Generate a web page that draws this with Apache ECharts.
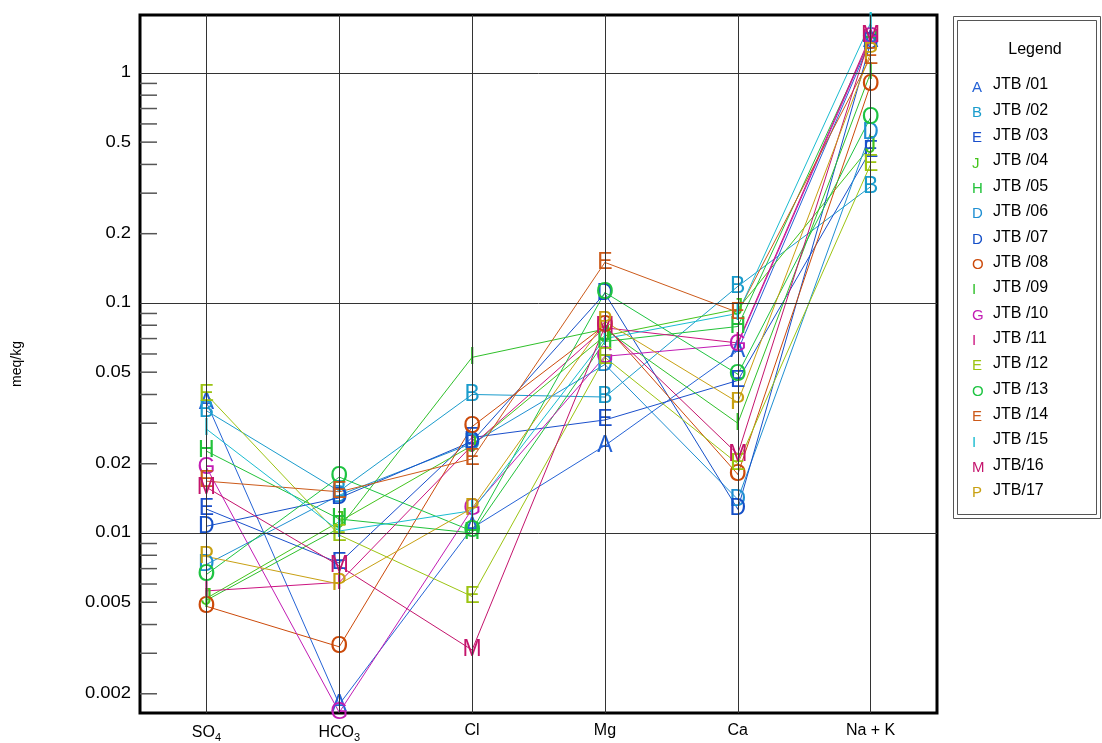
<!DOCTYPE html>
<html>
<head>
<meta charset="utf-8">
<title>Schoeller</title>
<script src="https://cdn.jsdelivr.net/npm/echarts@6/dist/echarts.min.js"></script>
<style>
  html, body { margin: 0; padding: 0; background: #fff; }
  #chart { width: 1102px; height: 743px; }
</style>
</head>
<body>
<div id="chart"></div>
<script>
(function() {
    'use strict';

    // categories along the x axis
    var categories = ['SO4', 'HCO3', 'Cl', 'Mg', 'Ca', 'Na + K'];

    // sample values, meq/kg, in the order of the categories
    var jtb01 = [0.037, 0.0018, 0.0105, 0.024, 0.062, 1.38];
    var jtb02 = [0.034, 0.0152, 0.040, 0.039, 0.118, 0.32];
    var jtb03 = [0.0127, 0.0074, 0.026, 0.031, 0.046, 0.46];
    var jtb04 = [0.0052, 0.0112, 0.024, 0.072, 0.094, 0.48];
    var jtb05 = [0.0227, 0.0115, 0.0100, 0.068, 0.079, 1.40];
    var jtb06 = [0.0073, 0.0146, 0.0245, 0.054, 0.014, 0.55];
    var jtb07 = [0.0107, 0.0142, 0.025, 0.110, 0.0127, 1.35];
    var jtb08 = [0.0048, 0.0032, 0.029, 0.080, 0.018, 0.89];
    var jtb09 = [0.0051, 0.0105, 0.058, 0.077, 0.030, 1.00];
    var jtb10 = [0.0193, 0.00166, 0.0127, 0.0586, 0.066, 1.42];
    var jtb11 = [0.0056, 0.0061, 0.024, 0.078, 0.067, 1.45];
    var jtb12 = [0.040, 0.0098, 0.0053, 0.058, 0.020, 0.40];
    var jtb13 = [0.0066, 0.0175, 0.0102, 0.111, 0.049, 0.64];
    var jtb14 = [0.0168, 0.0151, 0.021, 0.150, 0.091, 1.17];
    var jtb15 = [0.0283, 0.0102, 0.0125, 0.070, 0.090, 1.65];
    var jtb16 = [0.0158, 0.0072, 0.0031, 0.079, 0.022, 1.45];
    var jtb17 = [0.0079, 0.0060, 0.0128, 0.083, 0.037, 1.22];

    var sampleNames = ['JTB /01', 'JTB /02', 'JTB /03', 'JTB /04', 'JTB /05', 'JTB /06',
        'JTB /07', 'JTB /08', 'JTB /09', 'JTB /10', 'JTB /11', 'JTB /12', 'JTB /13',
        'JTB /14', 'JTB /15', 'JTB/16', 'JTB/17'];
    var sampleLetters = ['A', 'B', 'E', 'J', 'H', 'D', 'D', 'O', 'I', 'G', 'I', 'E', 'O', 'E', 'I', 'M', 'P'];
    var sampleValues = [jtb01, jtb02, jtb03, jtb04, jtb05, jtb06, jtb07, jtb08, jtb09,
        jtb10, jtb11, jtb12, jtb13, jtb14, jtb15, jtb16, jtb17];

    // y axis: labelled values, minor ticks, grid lines
    var yLabels = ['0.002', '0.005', '0.01', '0.02', '0.05', '0.1', '0.2', '0.5', '1'];
    var yTicks = [0.002, 0.003, 0.004, 0.005, 0.006, 0.007, 0.008, 0.009,
        0.02, 0.03, 0.04, 0.05, 0.06, 0.07, 0.08, 0.09,
        0.2, 0.3, 0.4, 0.5, 0.6, 0.7, 0.8, 0.9];
    var yGridLines = [0.01, 0.1, 1];
    var yMin = 0.00165;
    var yMax = 1.785;

    var colors = ['#2563d6', '#1a9ccc', '#1a4fcc', '#44c41c', '#22c23a', '#1f8fd2',
        '#1550c8', '#cc4a0a', '#2fc02a', '#c21cb4', '#cc1480', '#9cc412', '#1ec442',
        '#cc5a1a', '#1abcd0', '#c4146c', '#c8a012'];

    var font = 'Liberation Sans, Arial, sans-serif';

    var chart = echarts.init(document.getElementById('chart'));

    var legendRich = { t: { fontSize: 16, color: '#000', fontFamily: font, lineHeight: 16 } };
    colors.forEach(function(c, i) {
        legendRich['k' + i] = { fontSize: 15, color: c, fontFamily: font, width: 21, padding: [5, 0, 0, 0], lineHeight: 16 };
    });

    var series = [];

    // helper series: grid lines
    series.push({
        name: '_grid',
        type: 'line',
        data: [],
        silent: true,
        z: 1,
        markLine: {
            silent: true,
            symbol: 'none',
            label: { show: false },
            animation: false,
            lineStyle: { color: '#333', width: 1, type: 'solid' },
            data: yGridLines.map(function(v) { return { yAxis: v }; })
                .concat(categories.map(function(c) { return { xAxis: c }; }))
        }
    });

    sampleValues.forEach(function(vals, i) {
        series.push({
            name: sampleNames[i],
            type: 'line',
            data: vals,
            color: colors[i],
            symbol: 'circle',
            symbolSize: 1,
            clip: false,
            z: 3,
            lineStyle: { width: 1, color: colors[i] },
            itemStyle: { color: colors[i] },
            label: {
                show: true,
                position: 'inside',
                formatter: sampleLetters[i],
                color: colors[i],
                fontSize: 23,
                fontFamily: font
            },
            emphasis: { disabled: true }
        });
    });

    // minor ticks on the left axis
    series.push({
        name: '_ticks',
        type: 'custom',
        silent: true,
        z: 4,
        data: yTicks.map(function(v) { return [0, v]; }),
        renderItem: function(params, api) {
            var y = api.coord([0, api.value(1)])[1];
            var x0 = params.coordSys.x;
            return {
                type: 'line',
                shape: { x1: x0, y1: y, x2: x0 + 17, y2: y },
                style: { stroke: '#555', lineWidth: 1.5 }
            };
        }
    });

    // y labels
    series.push({
        name: '_ylabels',
        type: 'custom',
        silent: true,
        z: 4,
        data: yLabels.map(function(s) { return [0, parseFloat(s)]; }),
        renderItem: function(params, api) {
            var y = api.coord([0, api.value(1)])[1];
            var x0 = params.coordSys.x;
            return {
                type: 'text',
                x: x0 - 9,
                y: y,
                scaleX: 1.15,
                style: {
                    text: yLabels[params.dataIndex],
                    align: 'right',
                    verticalAlign: 'middle',
                    fontSize: 16,
                    fontFamily: font,
                    fill: '#000'
                }
            };
        }
    });

    var option = {
        animation: false,
        backgroundColor: '#fff',
        title: {
            text: 'Legend',
            left: 1030,
            top: 37,
            textAlign: 'center',
            textStyle: { fontSize: 16, fontWeight: 'normal', color: '#000', fontFamily: font }
        },
        graphic: [
            { type: 'rect', shape: { x: 953.5, y: 16.5, width: 147, height: 502 }, style: { fill: null, stroke: '#555', lineWidth: 1 } },
            { type: 'rect', shape: { x: 957.5, y: 20.5, width: 139, height: 494 }, style: { fill: null, stroke: '#555', lineWidth: 1 } }
        ],
        legend: {
            orient: 'vertical',
            left: 967,
            top: 75,
            padding: 0,
            itemGap: 5.35,
            itemWidth: 0,
            itemHeight: 16,
            icon: 'rect',
            itemStyle: { opacity: 0 },
            selectedMode: false,
            data: sampleNames,
            formatter: function(name) {
                var i = sampleNames.indexOf(name);
                return '{k' + i + '|' + sampleLetters[i] + '}{t|' + name + '}';
            },
            textStyle: { rich: legendRich, fontFamily: font, fontSize: 16, lineHeight: 16 }
        },
        grid: {
            left: 140,
            top: 15,
            width: 797,
            height: 699,
            show: true,
            borderColor: '#000',
            borderWidth: 3
        },
        xAxis: {
            type: 'category',
            data: categories,
            boundaryGap: true,
            axisLine: { show: false },
            axisTick: { show: false },
            splitLine: { show: false },
            axisLabel: {
                margin: 10,
                color: '#000',
                formatter: function(v) {
                    if (v === 'SO4') return '{b|SO}{s|4}';
                    if (v === 'HCO3') return '{b|HCO}{s|3}';
                    return '{b|' + v + '}';
                },
                rich: {
                    b: { fontSize: 16, fontFamily: font, color: '#000' },
                    s: { fontSize: 11, fontFamily: font, color: '#000', padding: [9, 0, 0, 0] }
                }
            }
        },
        yAxis: {
            type: 'log',
            logBase: 10,
            min: yMin,
            max: yMax,
            name: 'meq/kg',
            nameLocation: 'middle',
            nameRotate: 90,
            nameGap: 116,
            nameTextStyle: { fontSize: 14, color: '#000', fontFamily: font },
            axisLine: { show: false },
            axisTick: { show: false },
            axisLabel: { show: false },
            splitLine: { show: false }
        },
        series: series
    };

    chart.setOption(option);
})();
</script>
</body>
</html>
